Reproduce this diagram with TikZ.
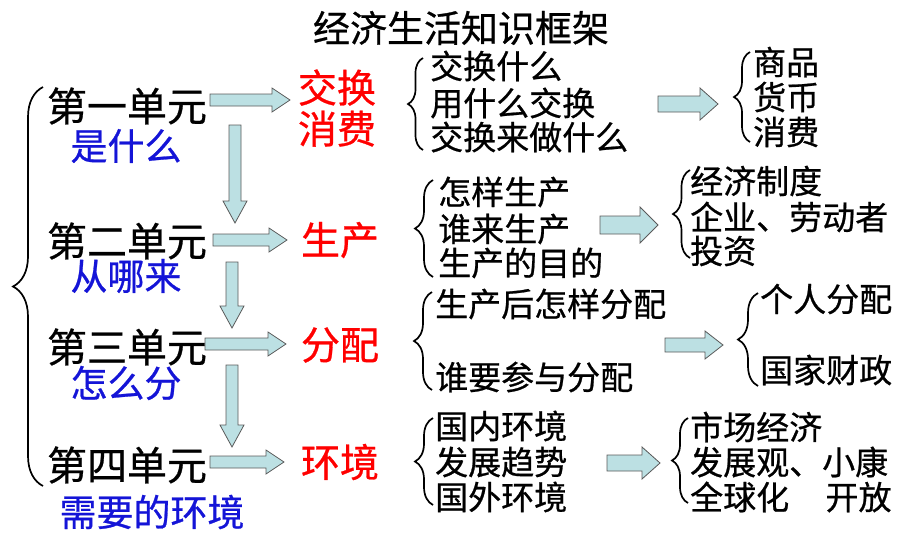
\documentclass[tikz,border=0pt]{standalone}
\usepackage{fontspec}
\setmainfont{Noto Sans CJK SC}[FakeBold=0.7]
\usepackage{xcolor}
\usetikzlibrary{decorations.pathreplacing}
\definecolor{askblue}{RGB}{20,20,215}
\definecolor{arrowfill}{RGB}{188,224,227}
\definecolor{arrowline}{RGB}{90,90,90}
\tikzset{
  unitnode/.style = {inner sep=0pt, font=\fontsize{40}{42}\selectfont},% unite
  asknode/.style = {inner sep=0pt, text=askblue, font=\fontsize{37}{39}\selectfont},
  topicnode/.style = {inner sep=0pt, text=red, align=center,
    font=\fontsize{39}{41}\selectfont},% theme rouge
  itemnode/.style = {inner sep=0pt, anchor=west,
    font=\fontsize{33}{35}\selectfont},% liste
  bracepath/.style = {decorate, decoration={brace, amplitude=#1},
    line width=1.7pt},
  blockarrow/.style = {fill=arrowfill, draw=arrowline, line width=0.8pt}
}
% fleche epaisse : [demi-tige]{x depart}{x pointe}{y}
\newcommand{\rightblock}[4][7]{%
  \draw[blockarrow] (#2,#4-#1) -- (#3-18,#4-#1) -- (#3-18,#4-2*#1)
    -- (#3,#4) -- (#3-18,#4+2*#1) -- (#3-18,#4+#1) -- (#2,#4+#1) -- cycle;}
% fleche epaisse vers le bas : [demi-tige]{x}{y depart}{y pointe}
\newcommand{\downblock}[4][6]{%
  \draw[blockarrow] (#2-#1,#3) -- (#2-#1,#4-22) -- (#2-2*#1,#4-22)
    -- (#2,#4) -- (#2+2*#1,#4-22) -- (#2+#1,#4-22) -- (#2+#1,#3) -- cycle;}

\begin{document}
\begin{tikzpicture}[x=1pt, y=-1pt]
\useasboundingbox (0,0) rectangle (920,542);

\node[inner sep=0pt, font=\fontsize{37}{39}\selectfont] (title) at (461,28) {经济生活知识框架};

% colonne gauche
\node[unitnode] (u1) at (127,106) {第一单元};
\node[asknode]  (q1) at (126,146) {是什么};
\node[unitnode] (u2) at (127,241) {第二单元};
\node[asknode]  (q2) at (126,276) {从哪来};
\node[unitnode] (u3) at (127,347) {第三单元};
\node[asknode]  (q3) at (126,383) {怎么分};
\node[unitnode] (u4) at (127,465) {第四单元};
\node[asknode]  (q4) at (152,512) {需要的环境};
\draw[bracepath=30] (43,486) -- (43,87);

% fleches de la colonne gauche
\rightblock[6]{210}{290}{100}
\rightblock[6]{213}{287}{240}
\rightblock[6]{205}{286}{344}
\rightblock[6]{210}{284}{462}
\downblock{235}{125}{223}
\downblock{232}{262}{328}
\downblock{232}{365}{447}

% themes
\node[topicnode] (t1) at (337,108) {交换\\消费};
\node[topicnode] (t2) at (340,240) {生产};
\node[topicnode] (t3) at (340,345) {分配};
\node[topicnode] (t4) at (340,462) {环境};

% ligne 1
\draw[bracepath=15] (423,150) -- (423,58);
\node[itemnode] (i11) at (430,66)  {交换什么};
\node[itemnode] (i12) at (430,103) {用什么交换};
\node[itemnode] (i13) at (430,137) {交换来做什么};
\rightblock[8]{658}{718}{104}
\draw[bracepath=16] (750,142) -- (750,52);
\node[itemnode] (r11) at (753,62)  {商品};
\node[itemnode] (r12) at (753,97)  {货币};
\node[itemnode] (r13) at (753,132) {消费};

% ligne 2
\draw[bracepath=18] (433,277) -- (433,180);
\node[itemnode] (i21) at (438,192) {怎样生产};
\node[itemnode] (i22) at (438,229) {谁来生产};
\node[itemnode] (i23) at (438,263) {生产的目的};
\rightblock[9]{600}{658}{225}
\draw[bracepath=17] (690,258) -- (690,170);
\node[itemnode] (r21) at (690,181) {经济制度};
\node[itemnode] (r22) at (690,217) {企业、劳动者};
\node[itemnode] (r23) at (690,251) {投资};

% ligne 3
\draw[bracepath=18] (432,390) -- (432,292);
\node[itemnode] (i31) at (435,304) {生产后怎样分配};
\node[itemnode] (i32) at (435,377) {谁要参与分配};
\rightblock[7]{665}{723}{345}
\draw[bracepath=20] (758,386) -- (758,293);
\node[itemnode] (r31) at (760,299) {个人分配};
\node[itemnode] (r32) at (760,370) {国家财政};

% ligne 4
\draw[bracepath=18] (433,505) -- (433,418);
\node[itemnode] (i41) at (435,426) {国内环境};
\node[itemnode] (i42) at (435,462) {发展趋势};
\node[itemnode] (i43) at (435,497) {国外环境};
\rightblock[8]{607}{660}{463}
\draw[bracepath=16] (688,503) -- (688,418);
\node[itemnode] (r41) at (690,427) {市场经济};
\node[itemnode] (r42) at (690,462) {发展观、小康};
\node[itemnode] (r43) at (690,497) {全球化\hspace{1.1em}开放};
\end{tikzpicture}
\end{document}
